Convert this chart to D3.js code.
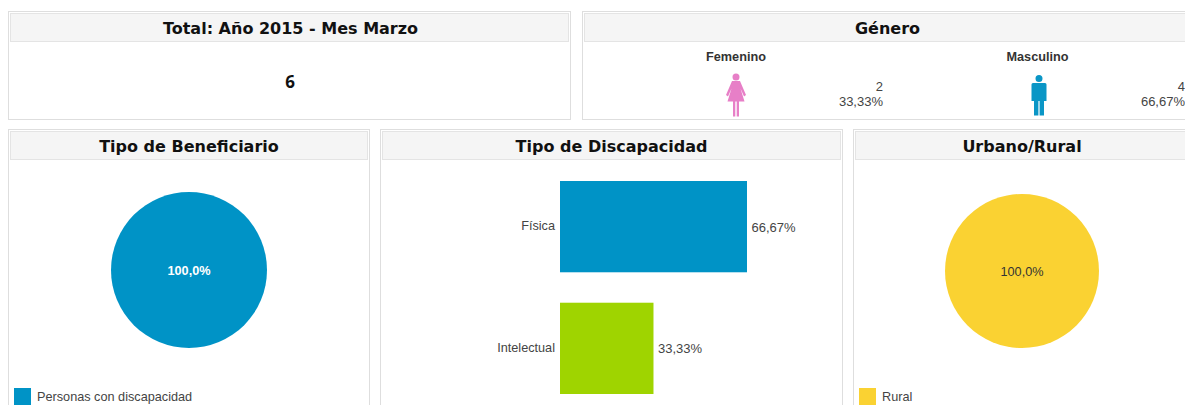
<!DOCTYPE html>
<html><head><meta charset="utf-8">
<script src="https://cdn.jsdelivr.net/npm/d3@7"></script>
<style>
html,body{margin:0;padding:0;background:#fff;overflow:hidden}
svg{display:block}
text{font-family:"Liberation Sans",Arial,sans-serif;fill:#444;font-size:12.7px}
.title{font-family:"DejaVu Sans",Tahoma,sans-serif;font-weight:700;font-size:16px;fill:#111;text-anchor:middle}
.pct{font-size:13px}
</style></head><body>
<svg id="c" width="1185" height="405"></svg>
<script>
const totalTitle = "Total: Año 2015 - Mes Marzo";
const totalValue = "6";
const genderTitle = "Género";
const genderLabels = ["Femenino", "Masculino"];
const genderCounts = [2, 4];
const genderPercents = ["33,33%", "66,67%"];
const beneficiaryTitle = "Tipo de Beneficiario";
const beneficiaryLabels = ["Personas con discapacidad"];
const beneficiaryValues = [100];
const disabilityTitle = "Tipo de Discapacidad";
const disabilityLabels = ["Física", "Intelectual"];
const disabilityValues = [66.67, 33.33];
const areaTitle = "Urbano/Rural";
const areaLabels = ["Rural"];
const areaValues = [100];

const fmt = v => v.toFixed(2).replace(".", ",") + "%";
const svg = d3.select("#c");

function panel(x0, y0, x1, y1, title, cx) {
  const g = svg.append("g");
  g.append("rect").attr("x", x0 + .5).attr("y", y0 + .5).attr("width", x1 - x0).attr("height", y1 - y0)
    .attr("fill", "#fff").attr("stroke", "#dedede");
  g.append("rect").attr("x", x0 + 2.5).attr("y", y0 + 2.5).attr("width", x1 - x0 - 4).attr("height", 28)
    .attr("fill", "#f5f5f5").attr("stroke", "#e4e4e4");
  g.append("text").attr("class", "title").attr("x", cx).attr("y", y0 + 23).text(title);
}

panel(8, 11, 570, 119, totalTitle, 290.5);
panel(582, 11, 1200, 119, genderTitle, 887.5);
panel(8, 129, 369, 420, beneficiaryTitle, 189);
panel(380, 129, 842, 420, disabilityTitle, 611.5);
panel(853, 129, 1200, 420, areaTitle, 1022);

svg.append("text").attr("x", 290).attr("y", 88).attr("text-anchor", "middle")
  .style("font-family", '"Noto Sans",sans-serif').style("font-weight", 700).style("font-size", "17px").style("fill", "#111").text(totalValue);

// Gender pictograms
const head = r => `M${-r} ${r}a${r} ${r} 0 1 1 ${2*r} 0a${r} ${r} 0 1 1 ${-2*r} 0Z`;
const female = head(3.5) + "M-4 7.5H4L10 21.5L8 23L4.5 15L8.5 28H3V43H.7V28H-.7V43H-3V28H-8.5L-4.5 15L-8 23L-10 21.5Z";
const male = head(3.5) + "M-6 8H6Q7.5 8 7.5 9.5V26H5V40.5H.6V26H-.6V40.5H-5V26H-7.5V9.5Q-7.5 8 -6 8Z";
const gx = d3.scalePoint().domain(genderLabels).range([736, 1037.5]);
const genderColors = ["#e77fc7", "#0a96c6"];
const iconX = [736, 1039];
const iconY = [73.5, 75];
const valueRight = [883, 1185];
genderLabels.forEach((d, i) => {
  svg.append("text").attr("x", gx(d)).attr("y", 61).attr("text-anchor", "middle")
    .style("font-weight", 700).style("fill", "#333").text(d);
  svg.append("path").attr("d", i ? male : female).attr("fill", genderColors[i])
    .attr("transform", `translate(${iconX[i]},${iconY[i]})`);
  svg.append("text").attr("class", "pct").attr("x", valueRight[i]).attr("y", 91).attr("text-anchor", "end").text(genderCounts[i]);
  svg.append("text").attr("class", "pct").attr("x", valueRight[i]).attr("y", 106).attr("text-anchor", "end").text(genderPercents[i]);
});

// Pies
function pie(cx, cy, r, labels, values, color, textColor, legendX) {
  const arcs = d3.pie().sort(null)(values);
  const arc = d3.arc().innerRadius(0).outerRadius(r);
  const g = svg.append("g").attr("transform", `translate(${cx},${cy})`);
  g.selectAll("path").data(arcs).join("path").attr("d", arc).attr("fill", color);
  g.selectAll("text").data(values).join("text").attr("y", 4.5).attr("text-anchor", "middle")
    .style("fill", textColor).style("font-weight", textColor === "#fff" ? 700 : 400)
    .text(v => v.toFixed(1).replace(".", ",") + "%");
  svg.append("rect").attr("x", legendX).attr("y", 388).attr("width", 17).attr("height", 17).attr("fill", color);
  svg.append("text").attr("x", legendX + 23).attr("y", 401).text(labels[0]);
}
pie(189, 270, 78, beneficiaryLabels, beneficiaryValues, "#0093c6", "#fff", 14);
pie(1022, 271, 77, areaLabels, areaValues, "#fad232", "#333", 859);

// Bars
const x = d3.scaleLinear().domain([0, 66.67]).range([560, 747]);
const y = d3.scaleBand().domain(disabilityLabels).range([181, 394]).paddingInner(0.25);
const barColors = ["#0093c6", "#9fd400"];
svg.selectAll(".bar").data(disabilityValues).join("rect").attr("class", "bar")
  .attr("x", x(0)).attr("y", (d, i) => y(disabilityLabels[i]))
  .attr("width", d => x(d) - x(0)).attr("height", y.bandwidth())
  .attr("fill", (d, i) => barColors[i]);
svg.selectAll(".blab").data(disabilityLabels).join("text").attr("class", "blab")
  .attr("x", 555).attr("y", d => y(d) + y.bandwidth() / 2 + 3.5).attr("text-anchor", "end").text(d => d);
svg.selectAll(".bval").data(disabilityValues).join("text").attr("class", "bval pct")
  .attr("x", d => x(d) + 4.5).attr("y", (d, i) => y(disabilityLabels[i]) + y.bandwidth() / 2 + 5).text(fmt);
</script></body></html>
